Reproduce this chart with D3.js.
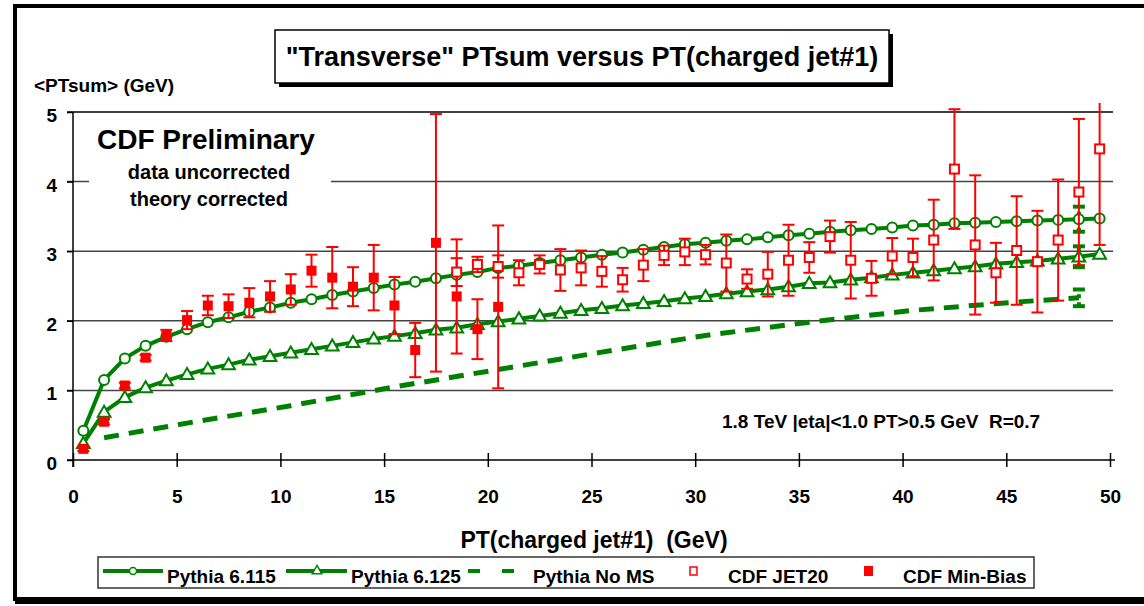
<!DOCTYPE html>
<html>
<head>
<meta charset="utf-8">
<script src="https://cdn.jsdelivr.net/npm/d3@7"></script>
<style>
  body { margin: 0; background: #fff; }
  text { font-family: "Liberation Sans", Arial, sans-serif; font-weight: bold; white-space: pre; }
</style>
</head>
<body>
<div class="chart"></div>
<script>
// Data: <PTsum> in the transverse region vs PT of leading charged jet
// =============================================================================================
var ptBins = [0.5, 1.5, 2.5, 3.5, 4.5, 5.5, 6.5, 7.5, 8.5, 9.5,
  10.5, 11.5, 12.5, 13.5, 14.5, 15.5, 16.5, 17.5, 18.5, 19.5,
  20.5, 21.5, 22.5, 23.5, 24.5, 25.5, 26.5, 27.5, 28.5, 29.5,
  30.5, 31.5, 32.5, 33.5, 34.5, 35.5, 36.5, 37.5, 38.5, 39.5,
  40.5, 41.5, 42.5, 43.5, 44.5, 45.5, 46.5, 47.5, 48.5, 49.5];

var pythia6115 = [0.42, 1.15, 1.46, 1.64, 1.77, 1.88, 1.98, 2.05, 2.13, 2.19,
  2.26, 2.31, 2.37, 2.42, 2.47, 2.52, 2.56, 2.61, 2.66, 2.70,
  2.76, 2.79, 2.83, 2.87, 2.91, 2.95, 2.98, 3.02, 3.06, 3.10,
  3.12, 3.15, 3.17, 3.20, 3.23, 3.25, 3.28, 3.30, 3.32, 3.34,
  3.37, 3.38, 3.40, 3.41, 3.42, 3.43, 3.44, 3.45, 3.46, 3.47];

var pythia6125 = [0.24, 0.69, 0.90, 1.04, 1.14, 1.23, 1.31, 1.37, 1.44, 1.49,
  1.54, 1.59, 1.64, 1.69, 1.74, 1.78, 1.82, 1.87, 1.90, 1.95,
  1.99, 2.03, 2.07, 2.11, 2.15, 2.18, 2.22, 2.25, 2.28, 2.32,
  2.35, 2.39, 2.42, 2.45, 2.49, 2.54, 2.55, 2.59, 2.62, 2.66,
  2.69, 2.72, 2.75, 2.78, 2.82, 2.84, 2.86, 2.89, 2.92, 2.96];

var noMSX = [1.5, 5.5, 10.5, 15.5, 20.5, 25.5, 30.5, 35.5, 40.5, 45.5, 48.5];
var noMS = [0.32, 0.53, 0.78, 1.05, 1.30, 1.55, 1.79, 1.98, 2.15, 2.27, 2.33];

// theory error bars only drawn on the last bin
var theoryErrX = 48.5;
var pythia6115Err = 0.18;
var pythia6125Err = 0.15;
var noMSErr = 0.12;

var minBiasX = ptBins.slice(0, 21);
var minBias = [0.16, 0.55, 1.07, 1.47, 1.79, 2.01, 2.22, 2.21, 2.26, 2.35,
  2.45, 2.72, 2.62, 2.49, 2.62, 2.22, 1.58, 3.12, 2.35, 1.88, 2.20];
var minBiasErr = [0.03, 0.04, 0.04, 0.04, 0.08, 0.13, 0.14, 0.17, 0.21, 0.22,
  0.22, 0.23, 0.44, 0.28, 0.47, 0.41, 0.39, 1.85, 0.82, 0.43, 1.17];

var jet20X = ptBins.slice(18);
var jet20 = [2.70, 2.81, 2.78, 2.69, 2.81, 2.73, 2.76, 2.71, 2.59,
  2.80, 2.94, 2.99, 2.95, 2.83, 2.60, 2.67, 2.87, 2.91, 3.21, 2.87, 2.61, 2.93, 2.91,
  3.16, 4.18, 3.09, 2.69, 3.01, 2.85, 3.16, 3.85, 4.47];
var jet20Err = [0.20, 0.11, 0.16, 0.18, 0.13, 0.30, 0.25, 0.22, 0.17,
  0.23, 0.14, 0.19, 0.14, 0.41, 0.14, 0.32, 0.51, 0.22, 0.23, 0.55, 0.25, 0.26, 0.27,
  0.58, 0.86, 1.00, 0.43, 0.78, 0.73, 0.87, 1.05, 1.38];

var xTickValues = [0, 5, 10, 15, 20, 25, 30, 35, 40, 45, 50];
var yTickValues = [0, 1, 2, 3, 4, 5];

var legendLabels = ["Pythia 6.115", "Pythia 6.125", "Pythia No MS", "CDF JET20", "CDF Min-Bias"];

// Step 1: chart setup
// ================================
var svgWidth = 1144;
var svgHeight = 606;
var green = "#008000";
var red = "#ff0000";

var svg = d3.select(".chart")
  .append("svg")
  .attr("width", svgWidth)
  .attr("height", svgHeight);

var xScale = d3.scaleLinear().domain([0, 50]).range([73, 1110]);
var yScale = d3.scaleLinear().domain([0, 5]).range([460, 112]);

// outer frame
svg.append("rect")
  .attr("x", 15).attr("y", 6)
  .attr("width", 1140).attr("height", 593)
  .attr("fill", "none")
  .attr("stroke", "#000")
  .attr("stroke-width", 4);
svg.append("rect")
  .attr("x", 15).attr("y", 598)
  .attr("width", 1140).attr("height", 6)
  .attr("fill", "#000");

// Step 2: gridlines and axes
// ================================
svg.append("g").selectAll("line")
  .data(yTickValues.filter(d => d > 0))
  .enter()
  .append("line")
  .attr("x1", 67).attr("x2", 1113)
  .attr("y1", d => yScale(d)).attr("y2", d => yScale(d))
  .attr("stroke", d => d == 5 ? "#000" : "#444")
  .attr("stroke-width", 1.5);

// white patch behind the CDF Preliminary block
svg.append("rect")
  .attr("x", 89).attr("y", 122)
  .attr("width", 242).attr("height", 95)
  .attr("fill", "#fff");

var yAxis = d3.axisLeft(yScale)
  .tickValues(yTickValues)
  .tickSize(6)
  .tickPadding(10)
  .tickFormat(d3.format("d"));

var yAxisG = svg.append("g")
  .attr("transform", "translate(73,0)")
  .call(yAxis);
yAxisG.select(".domain").remove();
yAxisG.selectAll("line").attr("stroke", "#000").attr("stroke-width", 1.5);
yAxisG.selectAll("text")
  .attr("font-size", 19)
  .attr("font-family", "Liberation Sans, Arial, sans-serif")
  .attr("fill", "#000")
  .attr("dy", "0.5em");

var xAxis = d3.axisBottom(xScale)
  .tickValues(xTickValues)
  .tickSize(14)
  .tickPadding(23)
  .tickFormat(d3.format("d"));

var xAxisG = svg.append("g")
  .attr("transform", "translate(0,453)")
  .call(xAxis);
xAxisG.select(".domain").remove();
xAxisG.selectAll("line").attr("stroke", "#000").attr("stroke-width", 1.5);
xAxisG.selectAll("text")
  .attr("font-size", 19)
  .attr("font-family", "Liberation Sans, Arial, sans-serif")
  .attr("fill", "#000");

svg.append("line")
  .attr("x1", 67).attr("x2", 1115)
  .attr("y1", yScale(0)).attr("y2", yScale(0))
  .attr("stroke", "#000").attr("stroke-width", 1.5);
svg.append("line")
  .attr("x1", xScale(0)).attr("x2", xScale(0))
  .attr("y1", yScale(5)).attr("y2", 467)
  .attr("stroke", "#000").attr("stroke-width", 1.5);

// Step 3: text blocks
// ================================
svg.append("text")
  .attr("x", 97).attr("y", 149)
  .attr("font-size", 28)
  .text("CDF Preliminary");
svg.append("text")
  .attr("x", 209).attr("y", 179)
  .attr("text-anchor", "middle")
  .attr("font-size", 20)
  .text("data uncorrected");
svg.append("text")
  .attr("x", 209).attr("y", 206)
  .attr("text-anchor", "middle")
  .attr("font-size", 20)
  .text("theory corrected");

svg.append("text")
  .attr("x", 34).attr("y", 92)
  .attr("font-size", 19)
  .text("<PTsum> (GeV)");

svg.append("text")
  .attr("x", 594).attr("y", 548)
  .attr("text-anchor", "middle")
  .attr("font-size", 23)
  .text("PT(charged jet#1)  (GeV)");

svg.append("text")
  .attr("x", 722).attr("y", 428)
  .attr("font-size", 19)
  .text("1.8 TeV |eta|<1.0 PT>0.5 GeV  R=0.7");

// title box with shadow
svg.append("rect")
  .attr("x", 279).attr("y", 34)
  .attr("width", 614).attr("height", 53)
  .attr("fill", "#000");
svg.append("rect")
  .attr("x", 275).attr("y", 30)
  .attr("width", 614).attr("height", 53)
  .attr("fill", "#fff")
  .attr("stroke", "#000")
  .attr("stroke-width", 1.5);
svg.append("text")
  .attr("x", 582).attr("y", 66)
  .attr("text-anchor", "middle")
  .attr("font-size", 27)
  .text("\"Transverse\" PTsum versus PT(charged jet#1)");

// Step 4: theory curves
// ================================
var plot = svg.append("g");

var line = d3.line()
  .x(d => xScale(d[0]))
  .y(d => yScale(d[1]));

var noMSData = noMSX.map((x, i) => [x, noMS[i]]);
var p115Data = ptBins.map((x, i) => [x, pythia6115[i]]);
var p125Data = ptBins.map((x, i) => [x, pythia6125[i]]);

plot.append("path")
  .attr("d", line(noMSData))
  .attr("fill", "none")
  .attr("stroke", green)
  .attr("stroke-width", 5)
  .attr("stroke-dasharray", "15,10");

plot.append("path")
  .attr("d", line(p125Data))
  .attr("fill", "none")
  .attr("stroke", green)
  .attr("stroke-width", 4);

plot.append("path")
  .attr("d", line(p115Data))
  .attr("fill", "none")
  .attr("stroke", green)
  .attr("stroke-width", 4);

// green error bars at the last theory bin
var theoryErr = [[pythia6115[48], pythia6115Err], [pythia6125[48], pythia6125Err], [noMS[noMS.length - 1], noMSErr]];
theoryErr.forEach(function (e) {
  var g = plot.append("g").attr("stroke", green).attr("stroke-width", 4);
  g.append("line")
    .attr("x1", xScale(theoryErrX)).attr("x2", xScale(theoryErrX))
    .attr("y1", yScale(e[0] - e[1])).attr("y2", yScale(e[0] + e[1]))
    .attr("stroke-dasharray", "4,4");
  [e[0] - e[1], e[0] + e[1]].forEach(function (v) {
    g.append("line")
      .attr("x1", xScale(theoryErrX) - 6).attr("x2", xScale(theoryErrX) + 6)
      .attr("y1", yScale(v)).attr("y2", yScale(v));
  });
});

plot.selectAll(".tri")
  .data(p125Data)
  .enter()
  .append("path")
  .attr("class", "tri")
  .attr("d", d3.symbol().type(d3.symbolTriangle).size(70))
  .attr("transform", d => `translate(${xScale(d[0])},${yScale(d[1]) + 1})`)
  .attr("fill", "#fff")
  .attr("stroke", green)
  .attr("stroke-width", 2);

plot.selectAll(".circ")
  .data(p115Data)
  .enter()
  .append("circle")
  .attr("class", "circ")
  .attr("cx", d => xScale(d[0]))
  .attr("cy", d => yScale(d[1]))
  .attr("r", 5)
  .attr("fill", "#fff")
  .attr("stroke", green)
  .attr("stroke-width", 2);

// Step 5: CDF data with error bars
// ================================
svg.append("clipPath").attr("id", "plotClip")
  .append("rect")
  .attr("x", 60).attr("y", 103)
  .attr("width", 1080).attr("height", 380);

var dataG = svg.append("g").attr("clip-path", "url(#plotClip)");

function drawErrors(xs, ys, errs) {
  var g = dataG.append("g").attr("stroke", red).attr("stroke-width", 2);
  xs.forEach(function (x, i) {
    var cx = xScale(x);
    var lo = yScale(ys[i] - errs[i]);
    var hi = yScale(ys[i] + errs[i]);
    g.append("line").attr("x1", cx).attr("x2", cx).attr("y1", lo).attr("y2", hi);
    g.append("line").attr("x1", cx - 6).attr("x2", cx + 6).attr("y1", lo).attr("y2", lo);
    g.append("line").attr("x1", cx - 6).attr("x2", cx + 6).attr("y1", hi).attr("y2", hi);
  });
}

drawErrors(jet20X, jet20, jet20Err);
drawErrors(minBiasX, minBias, minBiasErr);

dataG.selectAll(".jet20")
  .data(jet20X)
  .enter()
  .append("rect")
  .attr("class", "jet20")
  .attr("x", d => xScale(d) - 4.5)
  .attr("y", (d, i) => yScale(jet20[i]) - 4.5)
  .attr("width", 9).attr("height", 9)
  .attr("fill", "#fff")
  .attr("stroke", red)
  .attr("stroke-width", 2);

dataG.selectAll(".minbias")
  .data(minBiasX)
  .enter()
  .append("rect")
  .attr("class", "minbias")
  .attr("x", d => xScale(d) - 5)
  .attr("y", (d, i) => yScale(minBias[i]) - 5)
  .attr("width", 10).attr("height", 10)
  .attr("fill", red);

// Step 6: legend
// ================================
var legend = svg.append("g");
legend.append("rect")
  .attr("x", 98).attr("y", 557)
  .attr("width", 936).attr("height", 31)
  .attr("fill", "#fff")
  .attr("stroke", "#333")
  .attr("stroke-width", 1.5);

var legY = 571;
legend.append("line").attr("x1", 103).attr("x2", 163).attr("y1", legY).attr("y2", legY)
  .attr("stroke", green).attr("stroke-width", 4);
legend.append("circle").attr("cx", 133).attr("cy", legY).attr("r", 3.5)
  .attr("fill", "#fff").attr("stroke", green).attr("stroke-width", 1.5);

legend.append("line").attr("x1", 286).attr("x2", 347).attr("y1", legY).attr("y2", legY)
  .attr("stroke", green).attr("stroke-width", 4);
legend.append("path")
  .attr("d", d3.symbol().type(d3.symbolTriangle).size(40))
  .attr("transform", `translate(317,${legY})`)
  .attr("fill", "#fff").attr("stroke", green).attr("stroke-width", 1.5);

legend.append("line").attr("x1", 468).attr("x2", 514).attr("y1", legY).attr("y2", legY)
  .attr("stroke", green).attr("stroke-width", 4)
  .attr("stroke-dasharray", "12,22");

legend.append("rect").attr("x", 690).attr("y", legY - 4).attr("width", 7).attr("height", 8)
  .attr("fill", "#fff").attr("stroke", red).attr("stroke-width", 1.5);

legend.append("rect").attr("x", 864).attr("y", legY - 5).attr("width", 9).attr("height", 10)
  .attr("fill", red);

var legX = [167, 351, 533, 728, 903];
legend.selectAll(".legText")
  .data(legendLabels)
  .enter()
  .append("text")
  .attr("class", "legText")
  .attr("x", (d, i) => legX[i])
  .attr("y", 583)
  .attr("font-size", 19)
  .text(d => d);
</script>
</body>
</html>
